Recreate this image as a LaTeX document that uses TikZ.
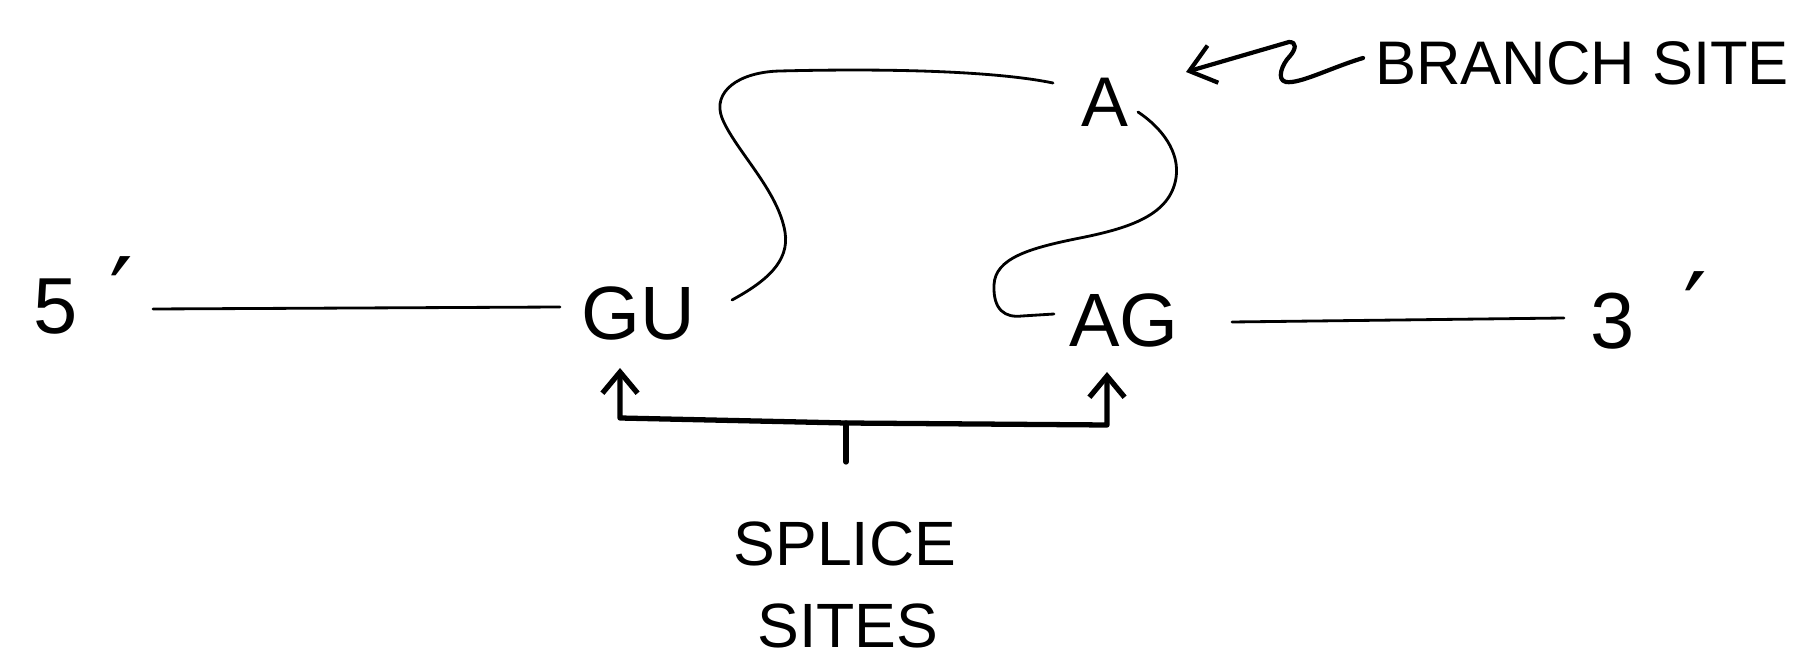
\documentclass[tikz,border=0pt]{standalone}
\usepackage{fontspec}
\setmainfont{Liberation Sans}
\newfontfamily\dejavu{DejaVu Sans}
\usetikzlibrary{arrows.meta}
\tikzset{
  ink/.style={line width=0.8pt, line cap=round, line join=round},
  inkarrow/.style={line width=1.2pt, line cap=round, line join=round, -{Straight Barb[length=7pt,width=11pt,line width=1.2pt]}},
  bracket/.style={line width=1.5pt, line cap=round, line join=round},
  bracketarrows/.style={bracket, {Straight Barb[length=6pt,width=10pt,line width=1.5pt]}-{Straight Barb[length=6pt,width=10pt,line width=1.5pt]}},
  lbl/.style={inner sep=0pt, outer sep=0pt},
  base/.style={lbl, font=\fontsize{21.5}{24}\selectfont},
  note/.style={lbl, font=\fontsize{17.8}{20}\selectfont},
}
\begin{document}
\begin{tikzpicture}[x=0.01cm, y=-0.01cm]
\useasboundingbox (0,0) rectangle (1794,661);
% labels
\node[lbl, font=\fontsize{22.6}{24}\selectfont, anchor=base west] (five) at (34,334) {5\hspace{9pt}{\dejavu\fontsize{30}{30}\selectfont ′}};
\node[lbl, font=\fontsize{22.6}{24}\selectfont, anchor=base west] (three) at (1590,349) {3\hspace{14pt}{\dejavu\fontsize{30}{30}\selectfont ′}};
\node[base] (GU) at (638,313) {GU};
\node[base] (AG) at (1124,320) {AG};
\node[lbl, font=\fontsize{20}{22}\selectfont] (A) at (1105,102) {A};
\node[lbl, font=\fontsize{17.5}{20}\selectfont] (bs) at (1582,63) {BRANCH SITE};
\node[note] (splice) at (845,544) {SPLICE};
\node[note] (sites) at (848,626) {SITES};
% exon lines
\coordinate (l5s) at (153,309);
\coordinate (l5e) at (560,307);
\coordinate (l3s) at (1232,322);
\coordinate (l3e) at (1564,318);
\draw[ink] (l5s) -- (l5e);
\draw[ink] (l3s) -- (l3e);
% intron loop GU -> A
\coordinate (c1s) at (732,300);
\coordinate (c1e) at (1053,83);
\draw[ink] (c1s) .. controls (765,282) and (790,262) .. (785,232)
  .. controls (778,190) and (735,150) .. (722,118)
  .. controls (712,92) and (738,72) .. (780,71)
  .. controls (900,68) and (1000,72) .. (c1e);
% A -> AG
\coordinate (c2s) at (1138,112);
\coordinate (c2e) at (1054,314);
\draw[ink] (c2s) .. controls (1162,128) and (1180,152) .. (1176,178)
  .. controls (1170,215) and (1130,228) .. (1080,238)
  .. controls (1030,248) and (995,258) .. (994,285)
  .. controls (993,310) and (1005,318) .. (1022,316) -- (c2e);
% branch site arrow
\coordinate (bq) at (1363,58);
\coordinate (bt) at (1186,72);
\draw[inkarrow] (bq) .. controls (1330,68) and (1300,84) .. (1286,82)
  .. controls (1276,80) and (1282,64) .. (1290,56)
  .. controls (1296,49) and (1297,42) .. (1289,42) -- (bt);
% splice sites bracket
\coordinate (gut) at (620,368);
\coordinate (agt) at (1107,372);
\coordinate (tk1) at (846,423);
\coordinate (tk2) at (846,462);
\draw[bracketarrows] (gut) -- (620,418) -- (846,423) -- (1107,425) -- (agt);
\draw[bracket] (tk1) -- (tk2);
\end{tikzpicture}
\end{document}
